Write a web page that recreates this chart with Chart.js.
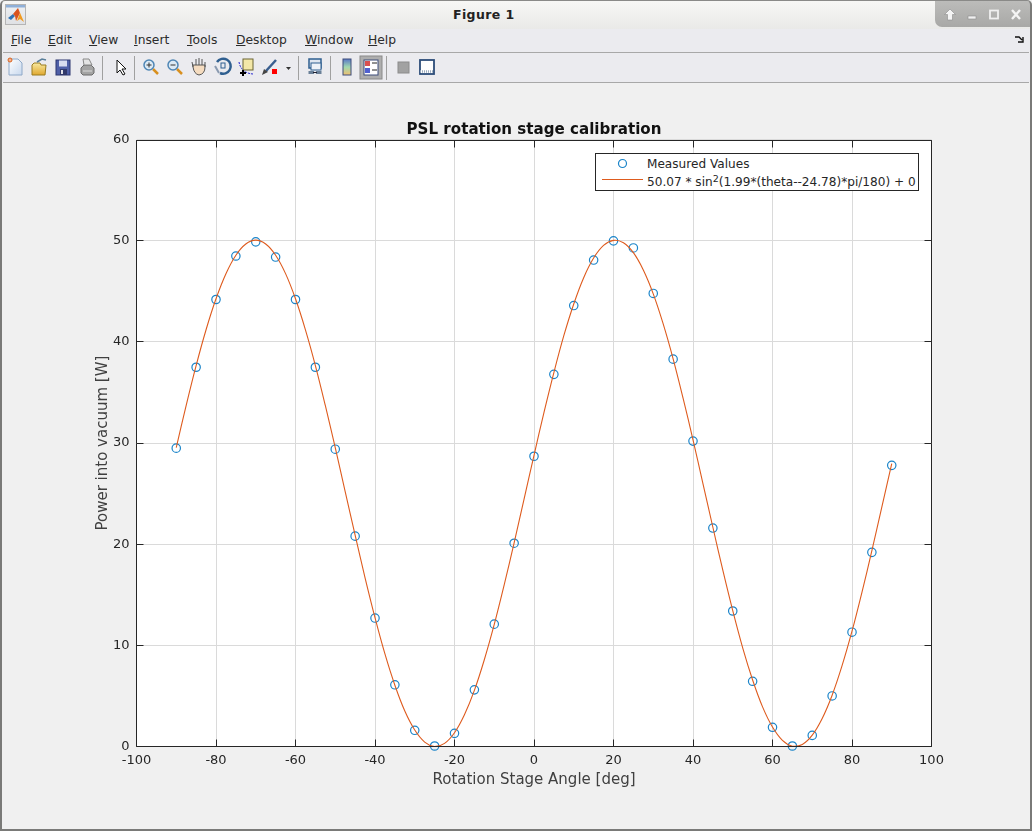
<!DOCTYPE html>
<html lang="en">
<head>
  <meta charset="UTF-8">
  <title>Figure 1</title>
  <script src="https://cdn.jsdelivr.net/npm/chart.js"></script>
  <style>
    html, body { margin: 0; padding: 0; }
    body {
      width: 1032px; height: 831px; overflow: hidden; position: relative;
      background: #f0f0f0; font-family: "DejaVu Sans", sans-serif;
    }
    #frame { position: absolute; inset: 0; border: 2px solid #7a7a78; border-top: 1px solid #8a8a88; border-radius: 5px 5px 0 0; box-sizing: border-box; pointer-events: none; z-index: 5; }
    #titlebar {
      position: absolute; left: 0; top: 0; width: 1032px; height: 29px;
      background: linear-gradient(#f8f8f6, #e9e9e7); border-radius: 5px 5px 0 0;
    }
    #titlebar b { position: absolute; left: 453px; top: 7px; font-size: 12.5px; color: #222; letter-spacing: .4px; }
    #buttons {
      position: absolute; left: 935px; top: 1px; width: 97px; height: 26px;
      background: linear-gradient(#bcbcba, #a8a8a6); border-radius: 0 5px 0 7px;
    }
    #logo { position: absolute; left: 5px; top: 4px; width: 21px; height: 21px; background: linear-gradient(#8fb0d8 0, #8fb0d8 2px, #eceef0 3px, #dfe1e4); border: 1px solid #b5b5b5; box-sizing: border-box; }
    #menubar { position: absolute; left: 0; top: 29px; width: 1032px; height: 23px; background: #ebebef; }
    #menubar span { position: absolute; top: 4px; font-size: 12.3px; color: #2c2c2c; }
    #menubar u { text-decoration-thickness: 1px; }
    #toolbar { position: absolute; left: 0; top: 53px; width: 1032px; height: 29px; background: #ebebef; }
    #toolbar svg { position: absolute; left: 0; top: 0; }
    .rule { position: absolute; left: 3px; width: 1026px; height: 1px; background: #a8a8a8; }
    #chart { position: absolute; left: 0; top: 0; }
    #legend {
      position: absolute; left: 595px; top: 153px; width: 324px; height: 38px;
      background: #fff; border: 1px solid #262626; box-sizing: border-box;
      font-size: 12.1px; color: #262626; z-index: 3;
    }
    #legend div { position: absolute; left: 51px; white-space: nowrap; }
    #legend sup { font-size: 9.5px; line-height: 0; vertical-align: 4px; }
    #legend svg { position: absolute; left: 0; top: 0; }
  </style>
</head>
<body>
  <div id="titlebar">
    <div id="logo">
      <svg width="19" height="19" viewBox="0 0 19 19" style="position:absolute;left:0;top:0">
        <path d="M2 13 L7 9 L9 11 L5 15 Z" fill="#2f74b5"/>
        <path d="M7 9 L12 3 L14 8 L10 16 L9 11 Z" fill="#d9541e"/>
        <path d="M12 3 L18 17 L14 14 L11 16 L14 8 Z" fill="#f09a20"/>
      </svg>
    </div>
    <b>Figure 1</b>
    <div id="buttons">
      <svg width="97" height="26">
        <path d="M15 8 L20.500 13.500 H17.500 V19 H12.500 V13.500 H9.500 Z" fill="#f4f4f4" stroke="#8c8c8c" stroke-width=".6"/>
        <rect x="33" y="15" width="8" height="3" fill="#f0f0f0" stroke="#8c8c8c" stroke-width=".6"/>
        <rect x="55" y="9.500" width="8" height="8" fill="none" stroke="#f0f0f0" stroke-width="1.800"/>
        <path d="M77 9 L85 18 M85 9 L77 18" stroke="#f4f4f4" stroke-width="2.400"/>
      </svg>
    </div>
  </div>

  <div id="menubar">
    <span style="left:11px"><u>F</u>ile</span>
    <span style="left:48px"><u>E</u>dit</span>
    <span style="left:89px"><u>V</u>iew</span>
    <span style="left:134px"><u>I</u>nsert</span>
    <span style="left:187px"><u>T</u>ools</span>
    <span style="left:236px"><u>D</u>esktop</span>
    <span style="left:305px"><u>W</u>indow</span>
    <span style="left:368px"><u>H</u>elp</span>
    <svg style="position:absolute;left:1015px;top:7px" width="9" height="8"><path d="M0 1 H4 L7 4 M8 1 V6 H3" fill="none" stroke="#111" stroke-width="1.400"/></svg>
  </div>
  <div class="rule" style="top:52px"></div>

  <div id="toolbar">
    <svg width="1032" height="29" fill="none">
      <defs>
        <linearGradient id="cb" x1="0" y1="0" x2="0" y2="1"><stop offset="0" stop-color="#5a78c8"/><stop offset=".5" stop-color="#a0d8b0"/><stop offset="1" stop-color="#f0c070"/></linearGradient>
        <linearGradient id="fold" x1="0" y1="0" x2="0" y2="1"><stop offset="0" stop-color="#f8e9a0"/><stop offset="1" stop-color="#e0a830"/></linearGradient>
        <linearGradient id="page" x1="0" y1="0" x2="1" y2="1"><stop offset="0" stop-color="#ffffff"/><stop offset="1" stop-color="#c8d8ee"/></linearGradient>
      </defs>
      <!-- new, open, save, print -->
      <path d="M9 6 H18 L22 10 V22 H9 Z" fill="url(#page)" stroke="#8ea8c8"/><circle cx="10" cy="7" r="2" fill="#f5b090" stroke="#d9641e"/>
      <path d="M32 12 L34 10 H40 L41 12 H46 L45 22 H32 Z" fill="url(#fold)" stroke="#9a7c20"/><path d="M37 9 L42 6 L46 7" stroke="#5a7f9a" stroke-width="1.500"/>
      <rect x="56" y="7" width="14" height="15" fill="#4f5fa8" stroke="#2c3670"/><rect x="59" y="7.500" width="8" height="6" fill="#d8dcf0"/><rect x="60" y="16" width="7" height="6" fill="#30386a"/><rect x="61" y="17" width="2" height="4" fill="#e0e0e8"/>
      <path d="M81 15 L84 12 H91 L94 15 V20 L92 22 H83 L81 20 Z" fill="#a4a4a4" stroke="#6a6a6a"/><path d="M84 12 L83 6 H89 L92 12 Z" fill="#e4e4e4" stroke="#888"/><path d="M83 18 H92" stroke="#dadada"/>
      <!-- pointer -->
      <path d="M117 7 V20 L120 17 L123 22 L125 21 L122 16 H126 Z" fill="#fff" stroke="#111"/>
      <!-- zoom in, out, pan, rotate, cursor, brush -->
      <path d="M153 16 L158 21" stroke="#d89020" stroke-width="2.500"/><circle cx="149" cy="12" r="5" fill="#dceaf5" stroke="#4f86b5" stroke-width="1.500"/><path d="M146.500 12 H151.500 M149 9.500 V14.500" stroke="#333"/>
      <path d="M177 16 L182 21" stroke="#d89020" stroke-width="2.500"/><circle cx="173" cy="12" r="5" fill="#dceaf5" stroke="#4f86b5" stroke-width="1.500"/><path d="M170.500 12 H175.500" stroke="#333"/>
      <path d="M193 14 L192 9 M196 12 V6 M199 12 V5 M202 12 V6 M205 14 V9 M193 14 Q194 21 199 22 Q205 21 205 14 L205 12 H193 Z" fill="#f5dcc0" stroke="#555"/>
      <path d="M217 9 A7.500 7.500 0 1 1 220 20" stroke="#2f5f90" stroke-width="2.500"/><path d="M215 13 L219 20" stroke="#8a9ab0" stroke-width="2"/><rect x="221" y="10" width="4" height="5" stroke="#2f5f90"/>
      <rect x="243" y="6" width="10" height="11" fill="#f3e7a8" stroke="#6b6432"/><path d="M239 9 Q241 20 253 21" stroke="#2020d0" stroke-dasharray="2 1"/><path d="M243 17 V23 M240 20 H246" stroke="#000" stroke-width="2"/>
      <path d="M266 18 L276 7" stroke="#3a5f90" stroke-width="2.500"/><path d="M262 22 L264 16 L268 19 Z" fill="#444"/><rect x="272" y="16" width="5" height="5" fill="#f00"/><path d="M286 14 H291 L288.500 17 Z" fill="#333"/>
      <!-- link -->
      <rect x="309" y="6" width="12" height="9" fill="#dfe6f0" stroke="#2f5f90" stroke-width="1.500"/><rect x="311" y="10" width="10" height="7" fill="#eef2f8" stroke="#2f5f90"/><path d="M308.500 19.500 H314 M316 19.500 H321.500" stroke="#6a8098" stroke-width="3"/><path d="M313 19.500 H317" stroke="#223"/>
      <!-- colorbar, legend -->
      <rect x="343" y="6" width="8" height="16" fill="url(#cb)" stroke="#3c4c7a"/>
      <rect x="360" y="3" width="22" height="23" fill="#aeaeae" stroke="#8a8a8a"/>
      <rect x="364" y="7" width="14" height="15" fill="#fff" stroke="#3c4c7a"/><rect x="365" y="8" width="5" height="5" fill="#d95050"/><rect x="365" y="15" width="5" height="5" fill="#5060d0"/><path d="M372 10 H377 M372 17 H377" stroke="#222"/>
      <!-- hide tools, film -->
      <rect x="398" y="9" width="11" height="11" fill="#a2a2a2" stroke="#8c8c8c"/>
      <rect x="420" y="7" width="14" height="14" fill="#fdfdfd" stroke="#2c4c78" stroke-width="1.800"/><path d="M420 18.500 H434" stroke="#9aaabc" stroke-width="2.500" stroke-dasharray="1 1"/>
      <!-- separators -->
      <path d="M102.500 3 V27 M134.500 3 V27 M298.500 3 V27 M330.500 3 V27 M386.500 3 V27" stroke="#a0a0a0"/>
    </svg>
  </div>
  <div class="rule" style="top:82px"></div>

  <canvas id="chart" width="1032" height="831"></canvas>

  <div id="legend">
    <svg width="322" height="36" fill="none">
      <circle cx="26.500" cy="9.500" r="4" stroke="#1a84c9" stroke-width="1.200"/>
      <path d="M6 25.500 H47" stroke="#DE5B1E"/>
    </svg>
    <div style="top:3px">Measured Values</div>
    <div style="top:21px">50.07 * sin<sup>2</sup>(1.99*(theta--24.78)*pi/180) + 0</div>
  </div>
  <div id="frame"></div>

  <script>
    const measuredAngle = [-90, -85, -80, -75, -70, -65, -60, -55, -50, -45, -40, -35, -30, -25, -20, -15, -10, -5, 0,
      5, 10, 15, 20, 25, 30, 35, 40, 45, 50, 55, 60, 65, 70, 75, 80, 85, 90];
    const measuredPower = [29.5, 37.5, 44.2, 48.5, 49.9, 48.4, 44.2, 37.5, 29.4, 20.8, 12.7, 6.1, 1.6, 0.05, 1.3, 5.6, 12.1, 20.1, 28.7,
      36.8, 43.6, 48.1, 50.0, 49.3, 44.8, 38.3, 30.2, 21.6, 13.4, 6.45, 1.9, 0.05, 1.1, 5.0, 11.3, 19.2, 27.8];

    // fitted curve, every 2.5 deg
    const fitAngle = [-90, -87.5, -85, -82.5, -80, -77.5, -75, -72.5, -70, -67.5, -65, -62.5, -60, -57.5, -55, -52.5, -50, -47.5, -45, -42.5,
      -40, -37.5, -35, -32.5, -30, -27.5, -25, -22.5, -20, -17.5, -15, -12.5, -10, -7.5, -5, -2.5, 0,
      2.5, 5, 7.5, 10, 12.5, 15, 17.5, 20, 22.5, 25, 27.5, 30, 32.5, 35, 37.5, 40, 42.5,
      45, 47.5, 50, 52.5, 55, 57.5, 60, 62.5, 65, 67.5, 70, 72.5, 75, 77.5, 80, 82.5, 85, 87.5, 90];
    const fitPower = [29.55, 33.74, 37.67, 41.21, 44.27, 46.75, 48.58, 49.69, 50.07, 49.69, 48.58, 46.76, 44.27, 41.2, 37.67, 33.72, 29.55, 25.2, 20.9, 16.68,
      12.74, 9.15, 6.06, 3.51, 1.63, 0.44, 0, 0.31, 1.36, 3.14, 5.55, 8.58, 12.07, 15.98, 20.13, 24.47, 28.78,
      33.02, 36.98, 40.62, 43.76, 46.36, 48.3, 49.55, 50.05, 49.81, 48.83, 47.12, 44.76, 41.79, 38.34, 34.45, 30.33, 26.0,
      21.68, 17.43, 13.43, 9.76, 6.58, 3.92, 1.92, 0.6, 0.03, 0.2, 1.12, 2.77, 5.07, 7.99, 11.4, 15.25, 19.36, 23.68, 27.97];

    const titleText = 'PSL rotation stage calibration';
    const xLabel = 'Rotation Stage Angle [deg]';
    const yLabel = 'Power into vacuum [W]';

    const dark = '#262626';

    // white plot area behind everything
    const plotBack = {
      id: 'plotBack',
      beforeDraw(chart) {
        const a = chart.chartArea;
        chart.ctx.fillStyle = '#fff';
        chart.ctx.fillRect(a.left, a.top, a.right - a.left, a.bottom - a.top);
      }
    };

    // box and inward ticks on all four sides, like matlab
    const boxTicks = {
      id: 'boxTicks',
      afterDatasetsDraw(chart) {
        const ctx = chart.ctx, a = chart.chartArea, len = 7;
        const l = Math.floor(a.left) + 0.5, r = Math.floor(a.right) + 0.5;
        const t = Math.ceil(a.top) + 0.5, b = Math.floor(a.bottom) + 0.5;
        ctx.save();
        ctx.strokeStyle = dark;
        ctx.lineWidth = 1;
        ctx.beginPath();
        ctx.rect(l, t, r - l, b - t);
        chart.scales.x.ticks.forEach(tk => {
          const x = Math.floor(chart.scales.x.getPixelForValue(tk.value)) + 0.5;
          ctx.moveTo(x, b); ctx.lineTo(x, b - len);
          ctx.moveTo(x, t); ctx.lineTo(x, t + len);
        });
        chart.scales.y.ticks.forEach(tk => {
          // keep the top tick on the box line
          const y = Math.max(t, Math.floor(chart.scales.y.getPixelForValue(tk.value)) + 0.5);
          ctx.moveTo(l, y); ctx.lineTo(l + len, y);
          ctx.moveTo(r, y); ctx.lineTo(r - len, y);
        });
        ctx.stroke();
        ctx.restore();
      }
    };

    new Chart(document.getElementById('chart'), {
      type: 'scatter',
      data: {
        datasets: [
          {
            label: 'Measured Values',
            data: measuredAngle.map((x, i) => ({ x, y: measuredPower[i] })),
            showLine: false,
            pointStyle: 'circle',
            pointRadius: 4.2,
            pointBorderWidth: 1.2,
            pointBorderColor: '#1a84c9',
            pointBackgroundColor: 'transparent',
            clip: false,
            order: 2
          },
          {
            label: 'fit',
            data: fitAngle.map((x, i) => ({ x, y: fitPower[i] })),
            showLine: true,
            borderColor: '#DE5B1E',
            borderWidth: 1.1,
            pointRadius: 0,
            tension: 0.35,
            order: 1
          }
        ]
      },
      options: {
        responsive: false,
        animation: false,
        layout: { padding: { left: 94, right: 100.5, top: 0, bottom: 41.5 } },
        plugins: {
          legend: { display: false },
          tooltip: { enabled: false },
          title: {
            display: true,
            text: titleText,
            fullSize: false,
            color: '#111',
            font: { family: '"DejaVu Sans"', size: 15.1, weight: 'bold' },
            padding: { top: 120.6, bottom: 1 }
          }
        },
        scales: {
          x: {
            type: 'linear',
            min: -100,
            max: 100,
            afterFit(s) { s.height = 43; },
            ticks: { stepSize: 20, color: dark, padding: 6, maxRotation: 0, font: { family: '"DejaVu Sans"', size: 13 } },
            grid: { color: '#dadada', lineWidth: 1, drawTicks: false },
            border: { display: false },
            title: { display: true, text: xLabel, color: '#404040', font: { family: '"DejaVu Sans"', size: 15 }, padding: 0 }
          },
          y: {
            min: 0,
            max: 60,
            afterFit(s) { s.width = 42.5; },
            ticks: { stepSize: 10, color: dark, padding: 7, font: { family: '"DejaVu Sans"', size: 13 } },
            grid: { color: '#dadada', lineWidth: 1, drawTicks: false },
            border: { display: false },
            title: { display: true, text: yLabel, color: '#404040', font: { family: '"DejaVu Sans"', size: 15 }, padding: 0 }
          }
        }
      },
      plugins: [plotBack, boxTicks]
    });
  </script>
</body>
</html>
